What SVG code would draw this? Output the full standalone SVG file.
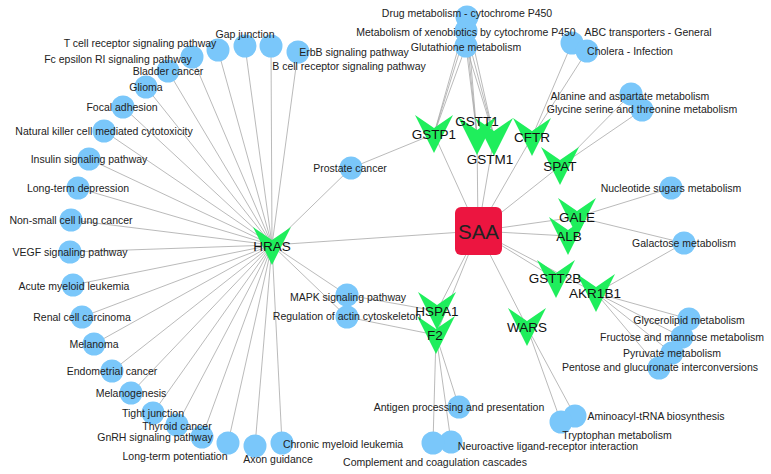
<svg xmlns="http://www.w3.org/2000/svg" xmlns:xlink="http://www.w3.org/1999/xlink" width="771" height="474" viewBox="0 0 771 474">
<style>
.e{stroke:#a8a8a8;stroke-width:0.8;fill:none}
.p{fill:#7ac7fa}
.g{fill:#1fee5c}
.lt{font-family:"Liberation Sans",Arial,sans-serif;font-size:10.5px;fill:#222;text-anchor:middle;dominant-baseline:central}
.gt{font-family:"Liberation Sans",Arial,sans-serif;font-size:13.5px;fill:#111;text-anchor:middle;dominant-baseline:central}
</style>
<defs>
<path id="v" d="M-19,-19 L0,-6 L19,-19 L0,19 Z"/>
</defs>
<rect width="771" height="474" fill="#fff"/>
<g id="edges" class="e">
<path d="M272,245L218,50M272,245L192,57M272,245L168,71M272,245L146,87M272,245L123,107M272,245L104,131M272,245L245,46M272,245L271,46M272,245L298,52M272,245L89,159M272,245L78,188M272,245L71,220M272,245L70,252M272,245L73,285M272,245L82,317M272,245L94,344M272,245L112,371M272,245L131,393M272,245L153,413M272,245L177,425M272,245L202,437M272,245L228,443M272,245L255,446M272,245L282,443M272,245L351,168M272,245L347,295M272,245L347,317M272,245L478,231"/>
<path d="M434,134L351,168M434,134L467,17M434,134L466,31M434,134L466,46M434,134L478,231"/>
<path d="M477,136L467,17M477,136L466,31M477,136L466,46M494,137L467,17M494,137L466,31M494,137L466,46M477,136L478,231M494,137L478,231"/>
<path d="M532,137L572,43M532,137L587,51M532,137L478,231"/>
<path d="M560,166L631,94M560,166L642,110M560,166L478,231"/>
<path d="M577,217L671,188M577,217L684,243M577,217L478,231M568,236L478,231M556,279L478,231"/>
<path d="M596,293L684,243M596,293L689,319M596,293L682,337M596,293L672,353M596,293L659,368M596,293L478,231"/>
<path d="M527,327L575,416M527,327L561,422M527,327L478,231"/>
<path d="M437,311L478,231M437,311L347,295M436,335L478,231M436,335L347,317M436,335L433,443M436,335L451,442M436,335L459,407"/>
</g>
<g id="pathways" class="p">
<circle cx="218" cy="50" r="11.5"/><circle cx="192" cy="57" r="11.5"/><circle cx="168" cy="71" r="11.5"/><circle cx="146" cy="87" r="11.5"/><circle cx="123" cy="107" r="11.5"/><circle cx="104" cy="131" r="11.5"/><circle cx="245" cy="46" r="11.5"/><circle cx="271" cy="46" r="11.5"/><circle cx="298" cy="52" r="11.5"/><circle cx="89" cy="159" r="11.5"/><circle cx="78" cy="188" r="11.5"/><circle cx="71" cy="220" r="11.5"/><circle cx="70" cy="252" r="11.5"/><circle cx="73" cy="285" r="11.5"/><circle cx="82" cy="317" r="11.5"/><circle cx="94" cy="344" r="11.5"/><circle cx="112" cy="371" r="11.5"/><circle cx="131" cy="393" r="11.5"/><circle cx="153" cy="413" r="11.5"/><circle cx="177" cy="425" r="11.5"/><circle cx="202" cy="437" r="11.5"/><circle cx="228" cy="443" r="11.5"/><circle cx="255" cy="446" r="11.5"/><circle cx="282" cy="443" r="11.5"/><circle cx="351" cy="168" r="11.5"/><circle cx="347" cy="295" r="11.5"/><circle cx="347" cy="317" r="11.5"/>
<circle cx="467" cy="17" r="11.5"/><circle cx="466" cy="31" r="11.5"/><circle cx="466" cy="46" r="11.5"/>
<circle cx="572" cy="43" r="11.5"/><circle cx="587" cy="51" r="11.5"/><circle cx="631" cy="94" r="11.5"/><circle cx="642" cy="110" r="11.5"/>
<circle cx="671" cy="188" r="11.5"/><circle cx="684" cy="243" r="11.5"/><circle cx="689" cy="319" r="11.5"/><circle cx="682" cy="337" r="11.5"/><circle cx="672" cy="353" r="11.5"/><circle cx="659" cy="368" r="11.5"/>
<circle cx="575" cy="416" r="11.5"/><circle cx="561" cy="422" r="11.5"/><circle cx="459" cy="407" r="11.5"/><circle cx="451" cy="442" r="11.5"/><circle cx="433" cy="443" r="11.5"/>
</g>
<g id="genes" class="g">
<use href="#v" x="272" y="246"/><use href="#v" x="434" y="134"/><use href="#v" x="477" y="136"/><use href="#v" x="494" y="137"/><use href="#v" x="532" y="137"/><use href="#v" x="560" y="166"/><use href="#v" x="568" y="236"/><use href="#v" x="577" y="217"/><use href="#v" x="556" y="279"/><use href="#v" x="596" y="293"/><use href="#v" x="527" y="327"/><use href="#v" x="437" y="311"/><use href="#v" x="436" y="335"/>
</g>
<g id="SAA">
<rect x="455" y="207" width="47" height="48" rx="6" fill="#ec1540"/>
<text x="478.5" y="231" font-family="Liberation Sans,Arial,sans-serif" font-size="20.5" fill="#222" text-anchor="middle" dominant-baseline="central">SAA</text>
</g>
<g id="gene-labels" class="gt">
<text x="272" y="246">HRAS</text><text x="434" y="134">GSTP1</text><text x="477" y="121">GSTT1</text><text x="490" y="159">GSTM1</text><text x="532" y="137">CFTR</text><text x="560" y="166">SPAT</text><text x="569" y="236">ALB</text><text x="577" y="217">GALE</text><text x="555" y="278">GSTT2B</text><text x="595" y="293">AKR1B1</text><text x="527" y="327">WARS</text><text x="437" y="311">HSPA1</text><text x="435" y="335">F2</text>
</g>
<g id="pathway-labels" class="lt">
<text x="245" y="34">Gap junction</text>
<text x="140" y="43">T cell receptor signaling pathway</text>
<text x="118" y="59">Fc epsilon RI signaling pathway</text>
<text x="168" y="71">Bladder cancer</text>
<text x="146" y="87">Glioma</text>
<text x="122" y="107">Focal adhesion</text>
<text x="104" y="131">Natural killer cell mediated cytotoxicity</text>
<text x="354" y="52">ErbB signaling pathway</text>
<text x="349" y="66">B cell receptor signaling pathway</text>
<text x="89" y="159">Insulin signaling pathway</text>
<text x="78" y="188">Long-term depression</text>
<text x="71" y="220">Non-small cell lung cancer</text>
<text x="70" y="252">VEGF signaling pathway</text>
<text x="74" y="286">Acute myeloid leukemia</text>
<text x="82" y="317">Renal cell carcinoma</text>
<text x="94" y="344">Melanoma</text>
<text x="112" y="371">Endometrial cancer</text>
<text x="131" y="393">Melanogenesis</text>
<text x="153" y="413">Tight junction</text>
<text x="177" y="426">Thyroid cancer</text>
<text x="155" y="437">GnRH signaling pathway</text>
<text x="175" y="456">Long-term potentiation</text>
<text x="278" y="459">Axon guidance</text>
<text x="343" y="444">Chronic myeloid leukemia</text>
<text x="350" y="168">Prostate cancer</text>
<text x="348" y="297">MAPK signaling pathway</text>
<text x="347" y="316">Regulation of actin cytoskeleton</text>
<text x="467" y="13">Drug metabolism - cytochrome P450</text>
<text x="466" y="32">Metabolism of xenobiotics by cytochrome P450</text>
<text x="466" y="47">Glutathione metabolism</text>
<text x="648" y="32">ABC transporters - General</text>
<text x="630" y="51">Cholera - Infection</text>
<text x="630" y="96">Alanine and aspartate metabolism</text>
<text x="642" y="109">Glycine serine and threonine metabolism</text>
<text x="671" y="188">Nucleotide sugars metabolism</text>
<text x="684" y="243">Galactose metabolism</text>
<text x="689" y="320">Glycerolipid metabolism</text>
<text x="682" y="337">Fructose and mannose metabolism</text>
<text x="672" y="353">Pyruvate metabolism</text>
<text x="660" y="367">Pentose and glucuronate interconversions</text>
<text x="656" y="416">Aminoacyl-tRNA biosynthesis</text>
<text x="617" y="435">Tryptophan metabolism</text>
<text x="459" y="407">Antigen processing and presentation</text>
<text x="548" y="446">Neuroactive ligand-receptor interaction</text>
<text x="435" y="462">Complement and coagulation cascades</text>
</g>
</svg>
